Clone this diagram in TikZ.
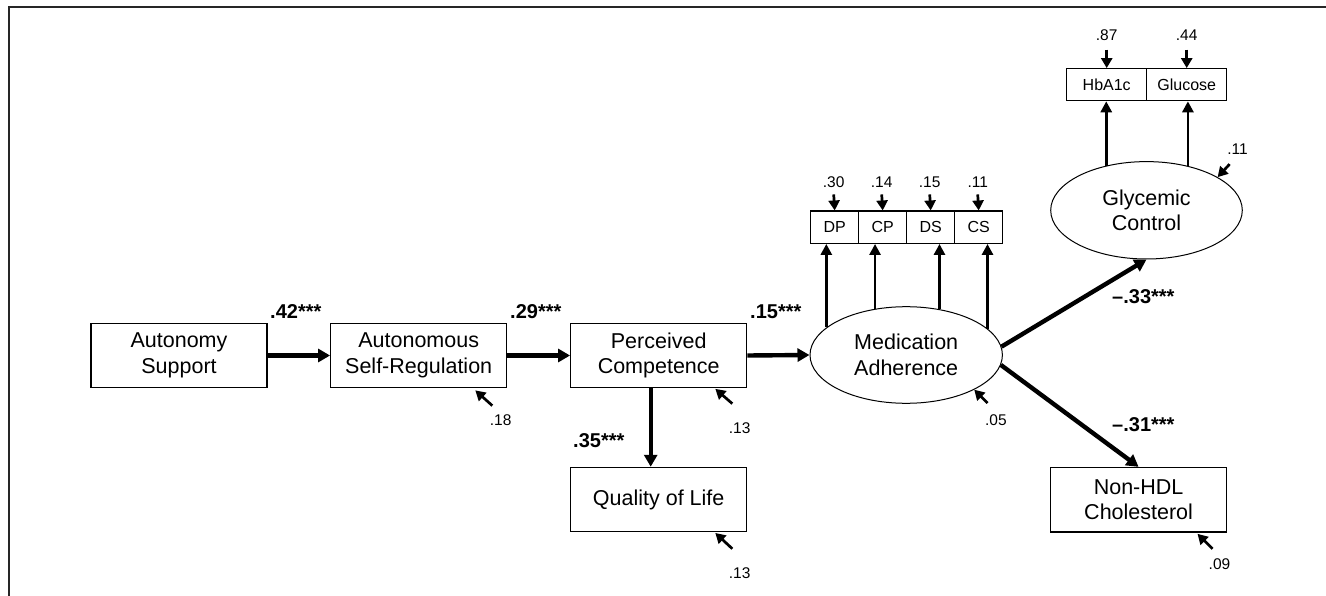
\documentclass[tikz,border=0pt]{standalone}
\usepackage{fontspec}
\setmainfont{Liberation Sans}
\usetikzlibrary{arrows.meta,calc,shapes.geometric}
\begin{document}
\begin{tikzpicture}[x=1pt,y=-1pt,
  box/.style={draw, line width=1.2pt, minimum width=176pt, minimum height=64.5pt, inner sep=0pt, align=center, font=\fontsize{21.5}{25.5}\selectfont},
  lat/.style={draw, ellipse, line width=1pt, inner sep=0pt, align=center, font=\fontsize{21.5}{25.5}\selectfont},
  indbox/.style={draw, line width=1.2pt, minimum width=48pt, minimum height=32.3pt, inner sep=0pt, font=\fontsize{16}{18}\selectfont},
  pathArrow/.style={line width=4.4pt, -{Triangle[length=12pt,width=13pt]}},
  loadArr/.style={line width=2.8pt, -{Triangle[length=11pt,width=11pt]}},
  errArr/.style={line width=2.7pt, -{Triangle[length=10pt,width=11pt]}},
  coef/.style={font=\bfseries\fontsize{20}{22}\selectfont, inner sep=0pt, anchor=base west},
  val/.style={font=\fontsize{15.5}{18}\selectfont, inner sep=0pt},
]
\useasboundingbox (0,0) rectangle (1326,596);
% frame
\draw[line width=1.8pt, black!85] (8.7,596) -- (8.7,7.3) -- (1326,7.3);

% observed boxes
\node[box] (AS)  at (179,355.5)   {Autonomy\\Support};
\node[box] (ASR) at (418.7,355.5) {Autonomous\\Self-Regulation};
\node[box] (PC)  at (658.7,355.5) {Perceived\\Competence};
\node[box] (QoL) at (658.7,499.6) {Quality of Life};
\node[box] (NHDL) at (1138.6,499.7) {Non-HDL\\Cholesterol};

% latent variables
\node[lat, minimum width=192.4pt, minimum height=96.6pt] (MA) at (906.2,355) {Medication\\Adherence};
\node[lat, minimum width=191.6pt, minimum height=97.4pt] (GC) at (1146.5,210.3) {Glycemic\\Control};

% indicators
\node[indbox] (DP) at (834.7,227.2) {DP};
\node[indbox] (CP) at (882.7,227.2) {CP};
\node[indbox] (DS) at (930.7,227.2) {DS};
\node[indbox] (CS) at (978.7,227.2) {CS};
\node[indbox, minimum width=80pt, minimum height=32pt] (HbA1c)   at (1106.7,84.7) {HbA1c};
\node[indbox, minimum width=80pt, minimum height=32pt] (Glucose) at (1186.7,84.7) {Glucose};

% structural paths
\draw[pathArrow] (AS) -- (ASR);
\draw[pathArrow] (ASR) -- (PC);
\draw[pathArrow] (PC.east) -- (MA.west);
\draw[pathArrow] ([xshift=-8pt]PC.south) -- ([xshift=-8pt]QoL.north);
\draw[pathArrow] (MA.5) -- (GC.south);
\draw[pathArrow] (MA.-6) -- (NHDL.north);

% coefficients
\node[coef] (c1) at (270,319) {.42***};
\node[coef] (c2) at (510,319) {.29***};
\node[coef] (c3) at (750,318) {.15***};
\node[coef] (c4) at (573,447) {.35***};
\node[coef] (c5) at (1112,303) {–.33***};
\node[coef] (c6) at (1112,431) {–.31***};

% loadings
\foreach \a/\b in {161.1/DP,124.3/CP,54.2/DS,18.2/CS}
  \draw[loadArr] (MA.\a) -- (MA.\a |- \b.south);
\foreach \a/\b in {132.1/HbA1c,47.9/Glucose}
  \draw[loadArr] (GC.\a) -- (GC.\a |- \b.south);

% indicator errors
\foreach \b/\v in {DP/.30,CP/.14,DS/.15,CS/.11}{
  \coordinate (e\b) at ($(\b.north)+(-1,-16)$);
  \draw[errArr] (e\b) -- (\b.north);
  \node[val] (l\b) at ($(\b.north)+(-1,-28)$) {\v};
}
\foreach \b/\v in {HbA1c/.87,Glucose/.44}{
  \coordinate (e\b) at ($(\b.north)+(0,-18.5)$);
  \draw[errArr] (e\b) -- (\b.north);
  \node[val] (l\b) at ($(\b.north)+(0,-32.5)$) {\v};
}

% residuals
\coordinate (rASR) at ($(ASR.south east)+(-15,17.3)$);
\draw[errArr] (rASR) -- ($(ASR.south east)+(-32,2)$);
\node[val] (vASR) at ($(ASR.south east)+(-6.7,32.3)$) {.18};

\coordinate (rPC) at ($(PC.south east)+(-15,15.3)$);
\draw[errArr] (rPC) -- ($(PC.south east)+(-32,0.5)$);
\node[val] (vPC) at ($(PC.south east)+(-7.7,40.3)$) {.13};

\coordinate (rQoL) at ($(QoL.south east)+(-15,16.3)$);
\draw[errArr] (rQoL) -- ($(QoL.south east)+(-32,0.5)$);
\node[val] (vQoL) at ($(QoL.south east)+(-7.7,40.3)$) {.13};

\coordinate (rNHDL) at ($(NHDL.south east)+(-14.7,16.3)$);
\draw[errArr] (rNHDL) -- ($(NHDL.south east)+(-29.7,1.3)$);
\node[val] (vNHDL) at ($(NHDL.south east)+(-7.7,31.6)$) {.09};

\coordinate (rMA) at ($(MA.-27)+(13.3,13.3)$);
\draw[errArr] (rMA) -- (MA.-27);
\node[val] (vMA) at ($(MA.-27)+(21.7,30)$) {.05};

\coordinate (rGC) at ($(GC.25.7)+(12,-13)$);
\draw[errArr] (rGC) -- (GC.25.7);
\node[val] (vGC) at ($(GC.25.7)+(20,-27.5)$) {.11};
\end{tikzpicture}
\end{document}
